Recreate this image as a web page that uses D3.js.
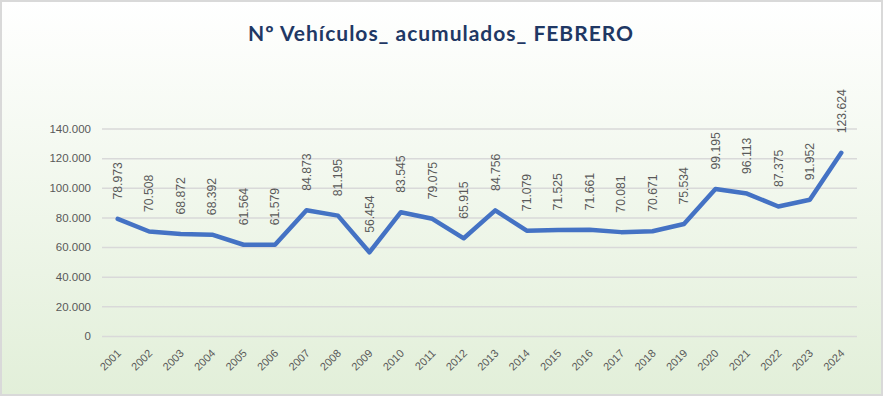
<!DOCTYPE html>
<html>
<head>
<meta charset="utf-8">
<script src="https://cdn.jsdelivr.net/npm/d3@7"></script>
<style>
  html, body { margin: 0; padding: 0; background: #fff; }
  svg { display: block; }
  .axis text { font-family: "Liberation Sans", Arial, sans-serif; fill: #595959; }
</style>
</head>
<body>
<svg id="chart" width="883" height="396"></svg>
<script>
const years = ["2001","2002","2003","2004","2005","2006","2007","2008","2009","2010","2011","2012",
               "2013","2014","2015","2016","2017","2018","2019","2020","2021","2022","2023","2024"];
const vehicles = [78973, 70508, 68872, 68392, 61564, 61579, 84873, 81195, 56454, 83545, 79075, 65915,
                  84756, 71079, 71525, 71661, 70081, 70671, 75534, 99195, 96113, 87375, 91952, 123624];
const yTicks = [0, 20000, 40000, 60000, 80000, 100000, 120000, 140000];

const width = 883, height = 396;
const margin = {top: 128.5, right: 26, bottom: 60, left: 102};

const svg = d3.select("#chart");

// background with green gradient
const defs = svg.append("defs");
const grad = defs.append("linearGradient")
    .attr("id", "bg")
    .attr("x1", 0).attr("y1", 0).attr("x2", 0).attr("y2", 1);
grad.append("stop").attr("offset", "0%").attr("stop-color", "#ffffff");
grad.append("stop").attr("offset", "100%").attr("stop-color", "#e2efd9");

svg.append("rect")
    .attr("x", 1).attr("y", 1)
    .attr("width", width - 2).attr("height", height - 2)
    .attr("fill", "url(#bg)")
    .attr("stroke", "#d9d9d9")
    .attr("stroke-width", 2);

svg.append("text")
    .attr("x", 440.5)
    .attr("y", 41)
    .attr("text-anchor", "middle")
    .attr("textLength", 385)
    .attr("lengthAdjust", "spacing")
    .style("font-family", "Lato, 'Open Sans', sans-serif")
    .style("font-weight", "bold")
    .style("font-size", "21px")
    .attr("fill", "#1f3864")
    .text("Nº Vehículos_ acumulados_ FEBRERO");

const x = d3.scaleBand()
    .domain(years)
    .range([margin.left, width - margin.right]);

const y = d3.scaleLinear()
    .domain([0, 140000])
    .range([height - margin.bottom, margin.top]);

const fmt = d => d3.format(",")(d).replace(/,/g, ".");

// gridlines + y axis
const yAxis = d3.axisLeft(y)
    .tickValues(yTicks)
    .tickSize(-(width - margin.left - margin.right))
    .tickPadding(11)
    .tickFormat(fmt);

const gY = svg.append("g")
    .attr("class", "axis")
    .attr("transform", "translate(" + margin.left + ",0)")
    .call(yAxis);
gY.select(".domain").remove();
gY.selectAll(".tick line").attr("stroke", "#d9d9d9").attr("stroke-width", 1.5);
gY.selectAll(".tick text").style("font-size", "11.5px");

// x axis
const xAxis = d3.axisBottom(x).tickSize(0).tickPadding(0);
const gX = svg.append("g")
    .attr("class", "axis")
    .attr("transform", "translate(0," + (height - margin.bottom) + ")")
    .call(xAxis);
gX.select(".domain").remove();
gX.selectAll(".tick text")
    .style("font-size", "11px")
    .attr("text-anchor", "end")
    .attr("y", 0)
    .attr("dy", null)
    .attr("transform", "translate(4,18) rotate(-45)");

// line
const line = d3.line()
    .x((d, i) => x(years[i]) + x.bandwidth() / 2)
    .y(d => y(d));

svg.append("path")
    .datum(vehicles)
    .attr("fill", "none")
    .attr("stroke", "#4472c4")
    .attr("stroke-width", 4.5)
    .attr("stroke-linejoin", "round")
    .attr("stroke-linecap", "round")
    .attr("d", line);

// data labels, rotated
svg.append("g")
    .selectAll("text")
    .data(vehicles)
    .join("text")
    .attr("transform", (d, i) => "translate(" + (x(years[i]) + x.bandwidth() / 2) + "," + (y(d) - 19.5) + ") rotate(-90)")
    .attr("dy", "0.35em")
    .style("font-family", "'Liberation Sans', Arial, sans-serif")
    .style("font-size", "12.2px")
    .attr("fill", "#595959")
    .text(fmt);
</script>
</body>
</html>
